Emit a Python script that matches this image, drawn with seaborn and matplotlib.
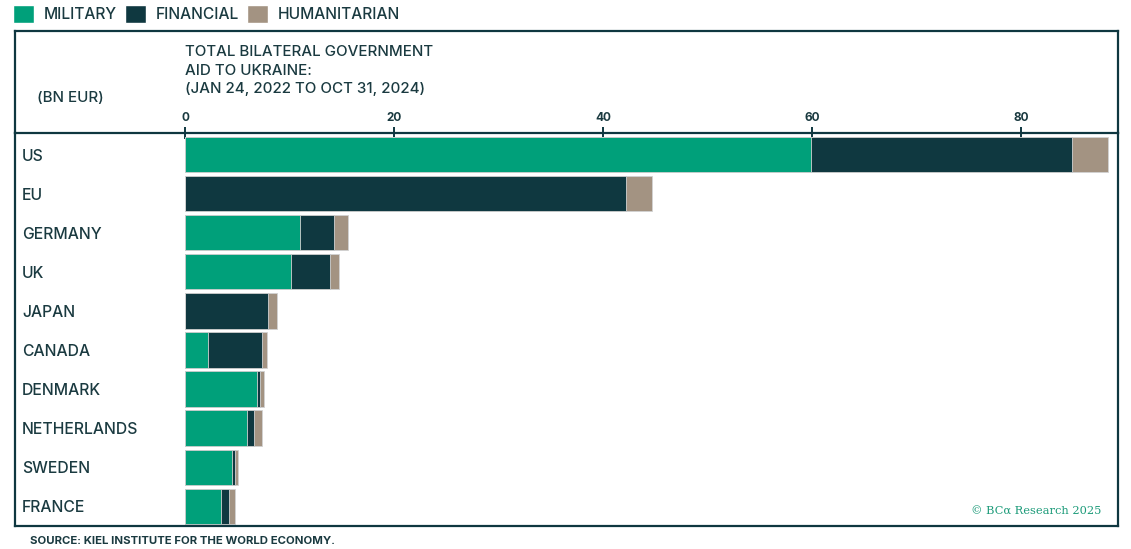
import matplotlib
matplotlib.use("Agg")
import matplotlib.pyplot as plt
import seaborn as sns
import pandas as pd
import numpy as np
from matplotlib.patches import Patch
from matplotlib.lines import Line2D

countries = ["US", "EU", "GERMANY", "UK", "JAPAN", "CANADA", "DENMARK", "NETHERLANDS", "SWEDEN", "FRANCE"]
military = [59.9, 0.0, 11.0, 10.1, 0.0, 2.2, 6.9, 5.9, 4.5, 3.4]
financial = [25.0, 42.2, 3.3, 3.8, 7.9, 5.2, 0.3, 0.7, 0.3, 0.8]
humanitarian = [3.4, 2.5, 1.3, 0.8, 0.9, 0.4, 0.4, 0.8, 0.3, 0.6]
xticks = [0, 20, 40, 60, 80]

C_MIL = "#00a07a"
C_FIN = "#0f3840"
C_HUM = "#a39382"
C_LINE = "#0f3740"
C_TEXT = "#1a3a40"

sns.set_theme(style="white")
plt.rcParams["font.family"] = ["Inter", "DejaVu Sans"]

df = pd.DataFrame({"country": countries, "mil": military, "fin": financial, "hum": humanitarian})
df["mil_fin"] = df["mil"] + df["fin"]
df["total"] = df["mil_fin"] + df["hum"]

W, H = 1131, 549
fig = plt.figure(figsize=(W / 100, H / 100), dpi=100)
L, R, T, B = 15, 1118, 133, 526
ax = fig.add_axes([L / W, (H - B) / H, (R - L) / W, (B - T) / H])

kw = dict(orient="h", width=0.9, edgecolor="#d2d2d2", linewidth=0.6, ax=ax, order=countries,
          saturation=1)
sns.barplot(data=df, x="total", y="country", color=C_HUM, **kw)
sns.barplot(data=df, x="mil_fin", y="country", color=C_FIN, **kw)
sns.barplot(data=df, x="mil", y="country", color=C_MIL, **kw)

ppu = 10.45
x0 = 185
ax.set_xlim((L - x0) / ppu, (R - x0) / ppu)
ax.set_ylim(9.51, -0.56)
ax.set_xlabel("")
ax.set_ylabel("")

for s in ax.spines.values():
    s.set_visible(True)
    s.set_color(C_LINE)
    s.set_linewidth(1.6)

ax.xaxis.tick_top()
ax.set_xticks(xticks)
ax.set_xticklabels([str(t) for t in xticks])
ax.tick_params(axis="x", direction="inout", length=9, width=1.4, color=C_LINE,
               labelsize=8.5, labelcolor=C_TEXT, pad=2)
for lab in ax.get_xticklabels():
    lab.set_fontweight("bold")

ax.tick_params(axis="y", length=0, labelsize=11.3, labelcolor=C_TEXT, pad=-5)
for lab in ax.get_yticklabels():
    lab.set_horizontalalignment("left")
    lab.set_fontweight("medium")

# Header box lines (figure pixels)
def px(x, y):
    return x / W, (H - y) / H

for (xa, ya), (xb, yb) in [((L, 31), (R, 31)), ((L, 31), (L, T)), ((R, 31), (R, T))]:
    p1, p2 = px(xa, ya), px(xb, yb)
    fig.add_artist(Line2D([p1[0], p2[0]], [p1[1], p2[1]], color=C_LINE, lw=1.6,
                          solid_capstyle="projecting"))

tkw = dict(fontsize=10.9, color=C_TEXT, va="center", ha="left", fontweight="medium")
fig.text(*px(185, 52), "TOTAL BILATERAL GOVERNMENT", **tkw)
fig.text(*px(185, 71), "AID TO UKRAINE:", **tkw)
fig.text(*px(185, 89), "(JAN 24, 2022 TO OCT 31, 2024)", **tkw)
fig.text(*px(37, 98), "(BN EUR)", **tkw)

handles = [Patch(facecolor=C_MIL), Patch(facecolor=C_FIN), Patch(facecolor=C_HUM)]
leg = fig.legend(handles, ["MILITARY", "FINANCIAL", "HUMANITARIAN"], ncol=3, frameon=False,
                 loc="center left", bbox_to_anchor=px(7, 14), handlelength=1.35, handleheight=1.35,
                 handletextpad=0.6, columnspacing=0.55, fontsize=11.2, borderaxespad=0)
for t in leg.get_texts():
    t.set_color(C_TEXT)
    t.set_fontweight("medium")

fig.text(*px(30, 541), "SOURCE: KIEL INSTITUTE FOR THE WORLD ECONOMY.", fontsize=8.2, fontweight="bold",
         color=C_TEXT, va="center", ha="left")
fig.text(*px(1101, 512), "© BCα Research 2025", fontsize=8.2, color="#1a9a78", va="center", ha="right",
         family=["DejaVu Serif"])

fig.savefig("out.png", dpi=100)
